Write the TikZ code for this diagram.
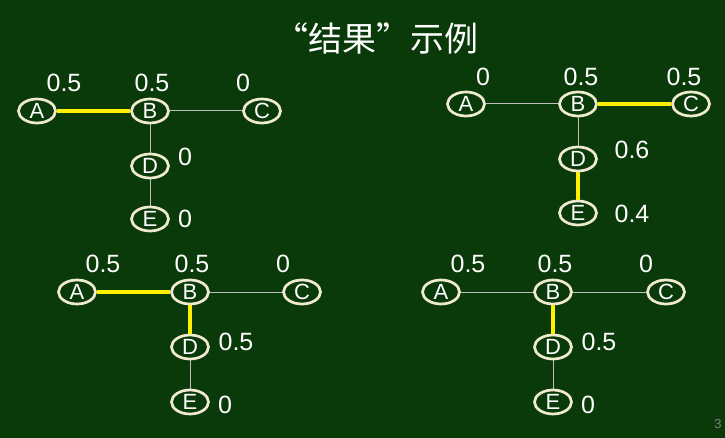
\documentclass[tikz,border=0pt]{standalone}
\usepackage{fontspec}
\setmainfont{Liberation Sans}
\newfontfamily\cjk{Noto Sans CJK SC}
\usetikzlibrary{shapes.geometric}
\definecolor{bg}{RGB}{10,58,10}
\definecolor{ring}{RGB}{240,234,208}
\definecolor{hl}{RGB}{255,240,0}
\definecolor{thin}{RGB}{190,190,190}
\tikzset{
  vtx/.style={ellipse, draw=ring, line width=2.7pt, fill=bg, text=white,
    minimum width=37pt, minimum height=24pt, inner sep=0pt, font=\fontsize{22}{22}\selectfont},
  val/.style={text=white, inner sep=0pt, font=\fontsize{25}{25}\selectfont},
  edg/.style={draw=thin, line width=1pt},
  hot/.style={draw=hl, line width=4pt},
}
\begin{document}
\begin{tikzpicture}[x=1pt,y=-1pt]
\fill[bg] (0,0) rectangle (725,438);
\useasboundingbox (0,0) rectangle (725,438);
\node[text=white, font=\cjk\fontsize{34}{34}\selectfont] (title) at (376,38) {“结果”示例};
\node[text=gray, font=\fontsize{13}{13}\selectfont] (pg) at (718,424) {3};

% graph 1
\node[vtx] (a1) at (37,111) {A};
\node[vtx] (b1) at (150,111) {B};
\node[vtx] (c1) at (262,111) {C};
\node[vtx] (d1) at (150,166) {D};
\node[vtx] (e1) at (150,219) {E};
\path[hot] (a1) -- (b1);
\path[edg] (b1) -- (c1);
\path[edg] (b1) -- (d1);
\path[edg] (d1) -- (e1);
\node[val] (la1) at (64,83) {0.5};
\node[val] (lb1) at (152,83) {0.5};
\node[val] (lc1) at (243,83) {0};
\node[val] (ld1) at (185,157) {0};
\node[val] (le1) at (185,219) {0};

% graph 2
\node[vtx] (a2) at (466,104) {A};
\node[vtx] (b2) at (578,104) {B};
\node[vtx] (c2) at (691,104) {C};
\node[vtx] (d2) at (578,159) {D};
\node[vtx] (e2) at (578,213) {E};
\path[edg] (a2) -- (b2);
\path[hot] (b2) -- (c2);
\path[edg] (b2) -- (d2);
\path[hot] (d2) -- (e2);
\node[val] (la2) at (483,77) {0};
\node[val] (lb2) at (581,77) {0.5};
\node[val] (lc2) at (684,77) {0.5};
\node[val] (ld2) at (632,150) {0.6};
\node[val] (le2) at (632,214) {0.4};

% graph 3
\node[vtx] (a3) at (77,292) {A};
\node[vtx] (b3) at (190,292) {B};
\node[vtx] (c3) at (302,292) {C};
\node[vtx] (d3) at (190,347) {D};
\node[vtx] (e3) at (190,402) {E};
\path[hot] (a3) -- (b3);
\path[edg] (b3) -- (c3);
\path[hot] (b3) -- (d3);
\path[edg] (d3) -- (e3);
\node[val] (la3) at (103,264) {0.5};
\node[val] (lb3) at (192,264) {0.5};
\node[val] (lc3) at (283,264) {0};
\node[val] (ld3) at (236,342) {0.5};
\node[val] (le3) at (225,405) {0};

% graph 4
\node[vtx] (a4) at (441,292) {A};
\node[vtx] (b4) at (553,292) {B};
\node[vtx] (c4) at (666,292) {C};
\node[vtx] (d4) at (553,347) {D};
\node[vtx] (e4) at (553,402) {E};
\path[edg] (a4) -- (b4);
\path[edg] (b4) -- (c4);
\path[hot] (b4) -- (d4);
\path[edg] (d4) -- (e4);
\node[val] (la4) at (468,264) {0.5};
\node[val] (lb4) at (555,264) {0.5};
\node[val] (lc4) at (646,264) {0};
\node[val] (ld4) at (599,342) {0.5};
\node[val] (le4) at (588,405) {0};
\end{tikzpicture}
\end{document}
